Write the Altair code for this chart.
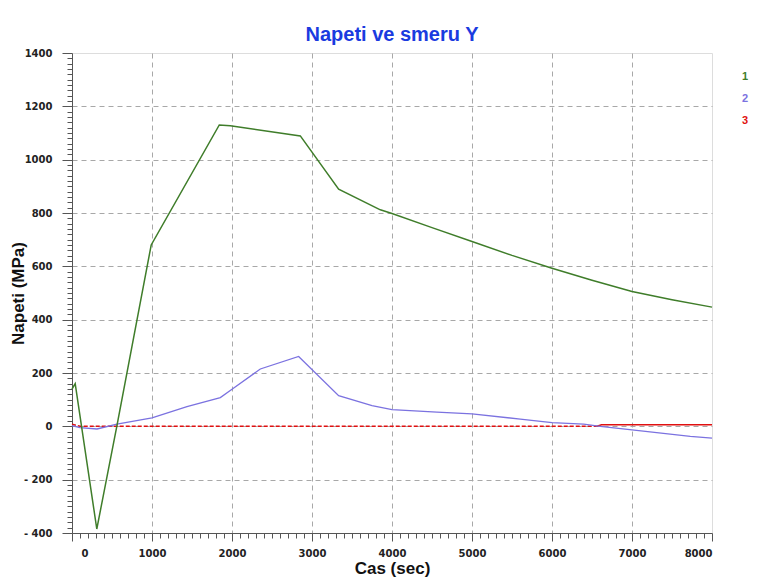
import altair as alt
import pandas as pd

# Series 1 (green)
s1_x = [0, 40, 310, 560, 990, 1841, 1979, 2854, 3333, 3854, 4000, 4500, 5000, 5500, 6000, 6500, 7000, 7500, 8000]
s1_y = [140, 160, -385, 0, 680, 1130, 1127, 1089, 889, 812, 798, 745, 693, 641, 593, 548, 506, 475, 447]

# Series 2 (blue)
s2_x = [0, 100, 312, 562, 1000, 1437, 1854, 2000, 2354, 2833, 3333, 3750, 4000, 4562, 5000, 5604, 6000, 6396, 6604, 7000, 7729, 8000]
s2_y = [3, -5, -10, 8, 32, 74, 108, 139, 215, 262, 115, 78, 63, 53, 47, 27, 14, 8, 0, -13, -38, -44]

# Series 3 (red)
s3_x = [0, 100, 6560, 6620, 8000]
s3_y = [8, 0, 0, 6, 6]

series_names = ["1", "2", "3"]
series_colors = ["#3f7d2a", "#7b72e0", "#e01010"]

x_ticks = list(range(0, 8001, 100))
y_ticks = list(range(-400, 1401, 20))

rows = []
for name, xs, ys in [("1", s1_x, s1_y), ("2", s2_x, s2_y), ("3", s3_x, s3_y)]:
    for i, (a, b) in enumerate(zip(xs, ys)):
        rows.append({"s": name, "t": a, "v": b, "o": i})
df = pd.DataFrame(rows)

xaxis = alt.Axis(
    values=x_ticks,
    labelExpr="datum.value % 1000 === 0 ? '' + datum.value : ''",
    labelOverlap=False,
    tickSize={"condition": {"test": "datum.value % 1000 === 0", "value": 8}, "value": 5},
    labelOffset={"condition": {"test": "datum.value === 0", "value": 9}, "value": 0},
    gridOpacity={"condition": {"test": "datum.value % 1000 === 0 && datum.value > 0 && datum.value < 8000", "value": 1}, "value": 0},
    gridDash=[5, 4],
    gridColor="#a8a8a8",
    gridWidth=1,
    domainColor="#555555",
    tickColor="#555555",
    labelFont="DejaVu Sans",
    labelFontWeight="bold",
    labelFontSize=10,
    labelColor="#222222",
    labelPadding=7,
    title="Cas (sec)",
    titleFont="Liberation Sans",
    titleFontSize=17,
    titleFontWeight="bold",
    titleColor="#111111",
    titleX=320,
    titleY=40,
    titleAlign="center",
    titleBaseline="alphabetic",
)

yaxis = alt.Axis(
    values=y_ticks,
    labelExpr="datum.value % 200 === 0 ? (datum.value < 0 ? '- ' + abs(datum.value) : '' + datum.value) : ''",
    labelOverlap=False,
    tickSize={"condition": {"test": "datum.value % 200 === 0", "value": 10}, "value": 5},
    gridOpacity={"condition": {"test": "datum.value % 200 === 0 && datum.value > -400 && datum.value < 1400", "value": 1}, "value": 0},
    gridDash=[5, 4],
    gridColor="#a8a8a8",
    gridWidth=1,
    domainColor="#555555",
    tickColor="#555555",
    labelFont="DejaVu Sans",
    labelFontWeight="bold",
    labelFontSize=10,
    labelColor="#222222",
    labelPadding=10,
    title="Napeti (MPa)",
    titleFont="Liberation Sans",
    titleFontSize=17,
    titleFontWeight="bold",
    titleColor="#111111",
    titleX=-54,
    titleY=240,
    titleAngle=270,
    titleAlign="center",
    titleBaseline="middle",
)

legend = alt.Legend(
    title=None,
    orient="none",
    legendX=659,
    legendY=18,
    symbolSize=0,
    symbolOpacity=0,
    symbolStrokeWidth=0,
    labelOffset=0,
    labelFont="Liberation Sans",
    labelFontSize=11,
    labelFontWeight="bold",
    labelColor={"expr": "scale('color', datum.value)"},
    rowPadding=10,
    padding=0,
)

base = alt.Chart(df).encode(
    x=alt.X("t:Q", scale=alt.Scale(domain=[0, 8000], nice=False, zero=False), axis=xaxis),
    y=alt.Y("v:Q", scale=alt.Scale(domain=[-400, 1400], nice=False, zero=False), axis=yaxis),
    color=alt.Color("s:N", scale=alt.Scale(domain=series_names, range=series_colors), legend=legend),
    order=alt.Order("o:Q"),
)

red_a = base.transform_filter(
    (alt.datum.s == "3") & (alt.datum.t <= 6560)
).mark_line(strokeWidth=1.5, strokeDash=[4, 2])
red_b = base.transform_filter(
    (alt.datum.s == "3") & (alt.datum.t >= 6560)
).mark_line(strokeWidth=1.6)
blue = base.transform_filter(alt.datum.s == "2").mark_line(strokeWidth=1.3)
green = base.transform_filter(alt.datum.s == "1").mark_line(strokeWidth=1.5)

chart = alt.layer(red_a, red_b, blue, green).properties(
    width=640,
    height=480,
    title=alt.TitleParams(
        text="Napeti ve smeru Y",
        font="Liberation Sans",
        fontSize=20,
        fontWeight="bold",
        color="#1a3be0",
        anchor="middle",
        baseline="alphabetic",
        frame="group",
        offset=12,
        dy=25,
    ),
    autosize=alt.AutoSizeParams(type="none"),
    padding={"left": 64, "top": 45, "right": 58, "bottom": 47},
).configure_view(
    stroke="#aaaaaa", strokeWidth=1
).configure(background="white")

chart.save("out.html", embed_options={"renderer": "svg", "actions": False})
